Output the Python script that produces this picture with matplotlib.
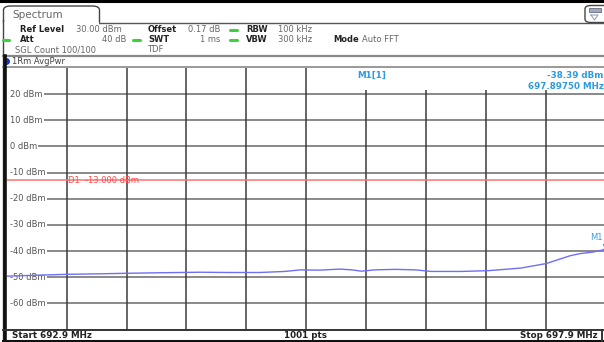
import matplotlib
matplotlib.use("Agg")
import matplotlib.pyplot as plt
from matplotlib.lines import Line2D
from matplotlib.patches import FancyBboxPatch, Rectangle

# ---------------- data ----------------
freq_start = 692.9
freq_stop = 697.9
ref_top = 30
ref_bottom = -70
y_ticks = [20, 10, 0, -10, -20, -30, -40, -50, -60]
y_tick_labels = ["20 dBm", "10 dBm", "0 dBm", "-10 dBm", "-20 dBm",
                 "-30 dBm", "-40 dBm", "-50 dBm", "-60 dBm"]
x_grid = [693.4, 693.9, 694.4, 694.9, 695.4, 695.9, 696.4, 696.9, 697.4]

trace_freq = [692.90, 693.18, 693.40, 693.68, 693.90, 694.18, 694.51, 694.76,
              695.01, 695.22, 695.35, 695.51, 695.68, 695.78, 695.86, 695.97,
              696.14, 696.31, 696.44, 696.69, 696.92, 697.19, 697.40, 697.50,
              697.60, 697.68, 697.79, 697.88, 697.90]
trace_dbm = [-49.6, -49.2, -48.9, -48.7, -48.5, -48.3, -48.1, -48.2,
             -48.2, -47.8, -47.2, -47.3, -46.9, -47.2, -47.7, -47.2,
             -47.0, -47.2, -47.8, -47.8, -47.5, -46.5, -44.8, -43.3,
             -41.8, -41.0, -40.4, -39.5, -38.4]

d1_level = -13.0
marker_freq = 697.8975
marker_level = -38.39

W, H = 604, 342
fig = plt.figure(figsize=(W / 100, H / 100), dpi=100)
fig.patch.set_facecolor("white")


def P(x, y):
    return x / W, 1 - y / H


def ftext(x, y, s, **kw):
    kw.setdefault("fontsize", 6)
    kw.setdefault("va", "center")
    kw.setdefault("family", "DejaVu Sans")
    fig.text(*P(x, y), s, **kw)


def fline(xs, ys, **kw):
    fx = [x / W for x in xs]
    fy = [1 - y / H for y in ys]
    fig.add_artist(Line2D(fx, fy, transform=fig.transFigure, **kw))


# ---------------- plot axes ----------------
left_px, right_px = 6.7, 606.0
top_px, bot_px = 68.0, 329.5
ax = fig.add_axes([left_px / W, (H - bot_px) / H, (right_px - left_px) / W,
                   (bot_px - top_px) / H])
ax.set_xlim(freq_start, freq_stop)
ax.set_ylim(ref_bottom, ref_top)
for s in ax.spines.values():
    s.set_visible(False)
ax.set_xticks([])
ax.set_yticks([])

for yv in y_ticks:
    ax.axhline(yv, xmin=0.006, color="#6a6a6a", lw=1.1, zorder=1)
for xv in x_grid:
    ax.axvline(xv, color="#3c3c3c", lw=1.1, zorder=1)

# marker info box covering grid top
ax.add_patch(Rectangle((0.555, 0.915), 0.45, 0.085, transform=ax.transAxes,
                       facecolor="white", edgecolor="none", zorder=2))

ytr = ax.get_yaxis_transform()
for yv, lab in zip(y_ticks, y_tick_labels):
    ax.text(0.0058, yv, lab, transform=ytr, fontsize=6, color="#555555",
            va="center", ha="left", zorder=3,
            bbox=dict(facecolor="white", edgecolor="none", pad=0.6))

ax.axhline(d1_level, color="#ff7070", lw=1.1, zorder=3)
ax.text(693.41, d1_level, "D1  -13.000 dBm", fontsize=6, color="#ff4a4a",
        va="center", ha="left", zorder=4)

ax.plot(trace_freq, trace_dbm, color="#6f6ff5", lw=1.0, zorder=5)
ax.plot([marker_freq], [marker_level], marker="v", color="#3a9de0",
        markersize=4, zorder=6, clip_on=False)
ax.annotate("M1", (marker_freq, marker_level), xytext=(-2.5, 7),
            textcoords="offset points", fontsize=6, color="#3a9de0",
            ha="right", va="center", zorder=6)

ax.text(0.585, 0.972, "M1[1]", transform=ax.transAxes, fontsize=6.3,
        color="#2e9be0", ha="left", va="center", zorder=4, weight="bold")
ax.text(0.996, 0.972, "-38.39 dBm", transform=ax.transAxes, fontsize=6.3,
        color="#2e9be0", ha="right", va="center", zorder=4, weight="bold")
ax.text(0.996, 0.93, "697.89750 MHz", transform=ax.transAxes, fontsize=6.3,
        color="#2e9be0", ha="right", va="center", zorder=4, weight="bold")

# ---------------- frame / header ----------------
fline([0, W], [1.2, 1.2], color="black", lw=2.2)
# tab (open at the bottom)
tab = FancyBboxPatch(P(3.5, 26), 96 / W, 20 / H,
                     boxstyle="round,pad=0,rounding_size=0.012",
                     transform=fig.transFigure, facecolor="white",
                     edgecolor="#444444", lw=1.0)
fig.add_artist(tab)
fig.add_artist(Rectangle(P(4.2, 27), 94.6 / W, 4.5 / H, transform=fig.transFigure,
                         facecolor="white", edgecolor="none"))
fline([2.5, 2.5], [20, 340], color="#444444", lw=1.0)
fline([99.5, 604], [23, 23], color="#555555", lw=1.0)
ftext(12, 15, "Spectrum", fontsize=7.5, color="#666666")

# icon box
icon = FancyBboxPatch(P(585, 22.5), 30 / W, 17 / H,
                      boxstyle="round,pad=0,rounding_size=0.01",
                      transform=fig.transFigure, facecolor="white",
                      edgecolor="#444444", lw=1.0)
fig.add_artist(icon)
fig.add_artist(Rectangle(P(589, 12), 12 / W, 4 / H, transform=fig.transFigure,
                         facecolor="#9aa8c8", edgecolor="#556", lw=0.5))
fline([591, 594.5, 598, 591], [15, 20, 15, 15], color="#8899bb", lw=0.7)

green = "#3fcf3f"
ftext(20, 30, "Ref Level", weight="bold", color="#222222")
ftext(76, 30, "30.00 dBm", color="#666666")
ftext(148, 30, "Offset", weight="bold", color="#222222")
ftext(188, 30, "0.17 dB", color="#666666")
fline([230, 237], [30, 30], color=green, lw=2.2, solid_capstyle="round")
ftext(246, 30, "RBW", weight="bold", color="#222222")
ftext(278, 30, "100 kHz", color="#666666")

fline([3, 9], [40, 40], color=green, lw=2.2, solid_capstyle="round")
ftext(20, 40, "Att", weight="bold", color="#222222")
ftext(126, 40, "40 dB", color="#666666", ha="right")
fline([133, 140], [40, 40], color=green, lw=2.2, solid_capstyle="round")
ftext(148, 40, "SWT", weight="bold", color="#222222")
ftext(220, 40, "1 ms", color="#666666", ha="right")
fline([230, 237], [40, 40], color=green, lw=2.2, solid_capstyle="round")
ftext(246, 40, "VBW", weight="bold", color="#222222")
ftext(278, 40, "300 kHz", color="#666666")
ftext(333, 40, "Mode", weight="bold", color="#222222")
ftext(362, 40, "Auto FFT", color="#666666")

ftext(15, 50, "SGL Count 100/100", color="#666666")
ftext(147, 50, "TDF", color="#666666")

fline([3, 604], [56, 56], color="#888888", lw=1.6)
fline([3, 604], [67, 67], color="#999999", lw=1.4)
fig.add_artist(Line2D([5.5 / W], [1 - 61 / H], transform=fig.transFigure,
                      marker="o", markersize=4, color="#1530e0", lw=0))
ftext(12, 61.5, "1Rm AvgPwr", color="#444444")

# left thick border
fline([4.8, 4.8], [56, 341], color="#111111", lw=2.6)

# bottom bar
fline([3, 604], [330, 330], color="#333333", lw=1.4)
fline([3, 604], [340.5, 340.5], color="#111111", lw=2.2)
ftext(12, 335.5, "Start 692.9 MHz", weight="bold", color="#222222", fontsize=6.3)
ftext(305, 335.5, "1001 pts", weight="bold", color="#222222", fontsize=6.3,
      ha="center")
ftext(598, 335.5, "Stop 697.9 MHz", weight="bold", color="#222222",
      fontsize=6.3, ha="right")
fline([601.5, 601.5], [330, 341], color="#333333", lw=1.4)

fig.savefig("out.png", dpi=100)
